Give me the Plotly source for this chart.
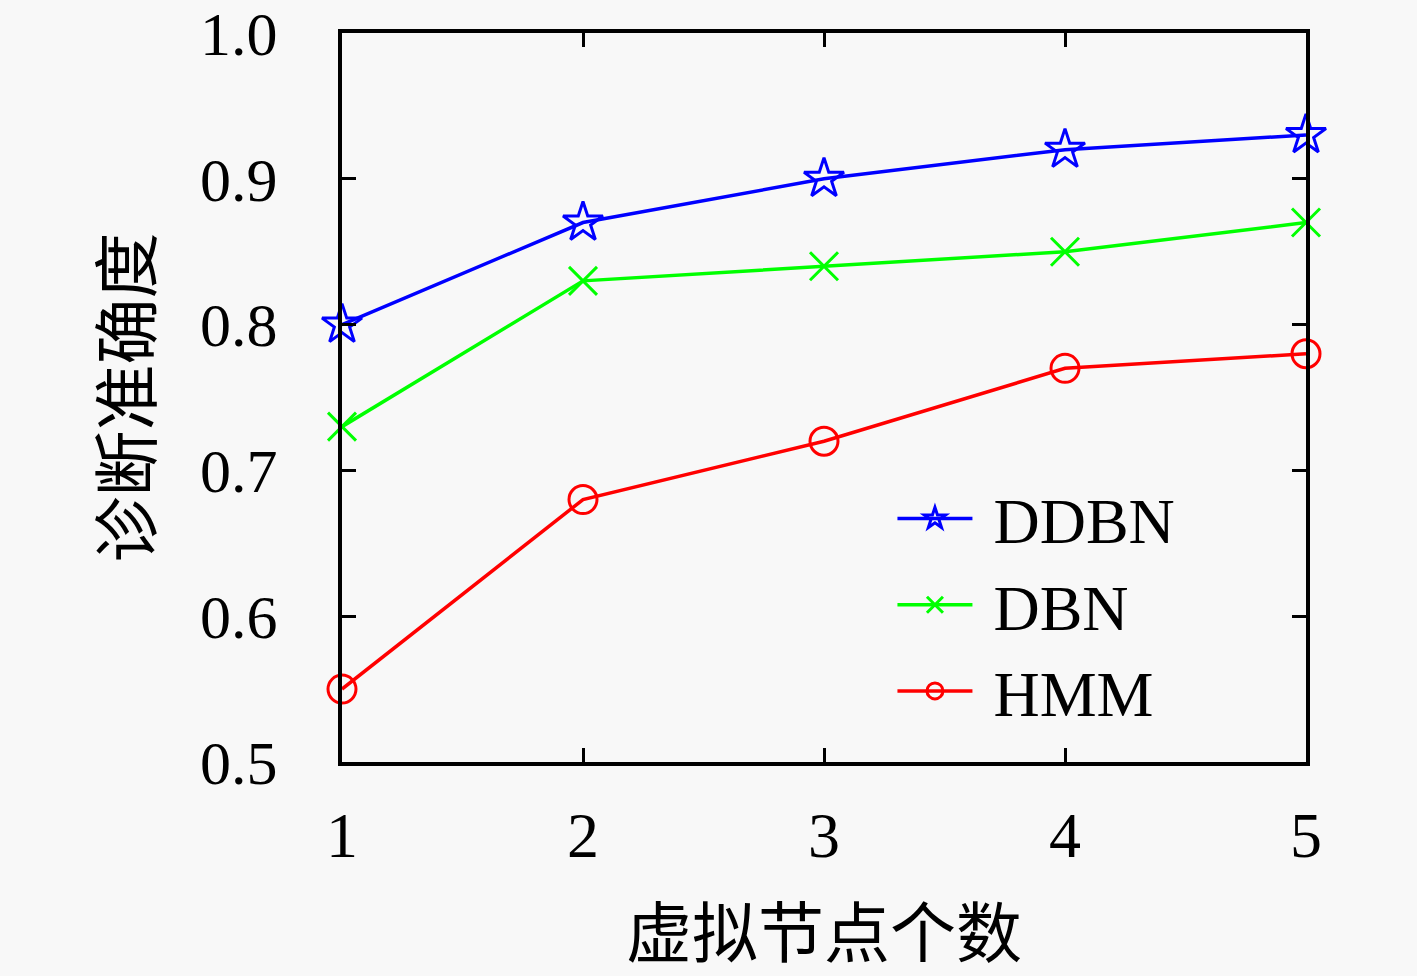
import plotly.graph_objects as go

# virtual node count vs diagnosis accuracy
nodes = [1, 2, 3, 4, 5]
ddbn = [0.80, 0.87, 0.90, 0.92, 0.93]
dbn = [0.73, 0.83, 0.84, 0.85, 0.87]
hmm = [0.55, 0.68, 0.72, 0.77, 0.78]

y_ticks = [0.5, 0.6, 0.7, 0.8, 0.9, 1.0]
y_tick_text = ["0.5", "0.6", "0.7", "0.8", "0.9", "1.0"]

serif = "Liberation Serif, DejaVu Serif, serif"
cjk = "Noto Sans CJK SC"

fig = go.Figure()

series = [
    ("DDBN", ddbn, "#0000ff", "star-open", 30),
    ("DBN", dbn, "#00ff00", "x-thin-open", 28),
    ("HMM", hmm, "#ff0000", "circle-open", 28),
]
for name, vals, col, sym, sz in series:
    fig.add_trace(go.Scatter(
        x=nodes, y=vals, name="\u00a0" + name, mode="lines+markers",
        line=dict(color=col, width=3.5),
        marker=dict(symbol=sym, size=sz, color=col, line=dict(color=col, width=3)),
        cliponaxis=False,
    ))

fig.update_layout(
    width=1417, height=976,
    paper_bgcolor="#f8f8f8", plot_bgcolor="#f8f8f8",
    margin=dict(l=342, r=111, t=33, b=214),
    font=dict(family=serif, size=64, color="black"),
    showlegend=True,
    legend=dict(
        x=0.571, y=0.40, xanchor="left", yanchor="top",
        bgcolor="rgba(0,0,0,0)", borderwidth=0,
        font=dict(family=serif, size=64),
        tracegroupgap=0, itemwidth=75,
    ),
)

fig.update_xaxes(
    range=[1, 5], tickvals=nodes, ticktext=[str(n) for n in nodes],
    ticks="inside", ticklen=14, tickwidth=3, tickcolor="black",
    showline=True, linecolor="black", linewidth=4, mirror="ticks",
    showgrid=False, zeroline=False, ticklabelstandoff=14, automargin=False,
    title=dict(text="虚拟节点个数", font=dict(family=cjk, size=66), standoff=46),
)
fig.update_yaxes(
    range=[0.5, 1.0], tickvals=y_ticks, ticktext=y_tick_text,
    ticks="inside", ticklen=14, tickwidth=3, tickcolor="black",
    showline=True, linecolor="black", linewidth=4, mirror="ticks",
    showgrid=False, zeroline=False, ticklabelstandoff=48, automargin=False,
    ticklabeloverflow="allow", tickfont=dict(size=62),
    title=dict(text="诊断准确度", font=dict(family=cjk, size=66), standoff=28),
)

fig.write_html("out.html", config={"displayModeBar": False},
               post_script="document.body.style.margin='0';")
